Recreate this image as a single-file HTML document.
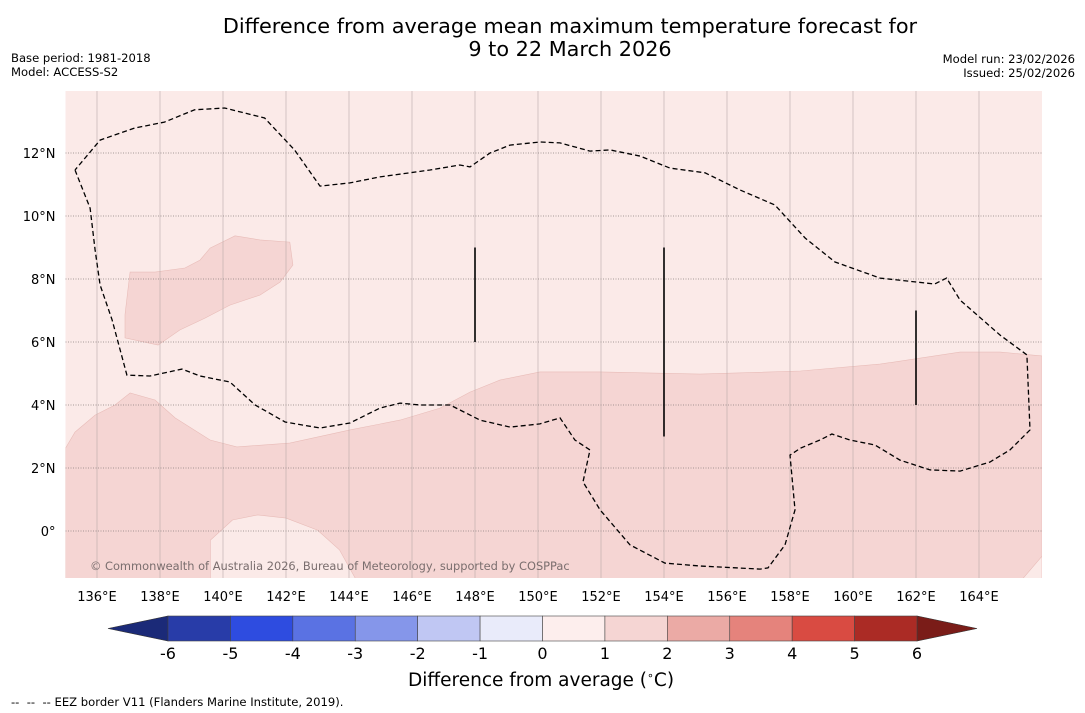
<!DOCTYPE html>
<html><head><meta charset="utf-8">
<style>
body{margin:0;background:#fff;font-family:"DejaVu Sans","Liberation Sans",sans-serif;}
#wrap{position:relative;width:1085px;height:713px;overflow:hidden;}
.t{position:absolute;white-space:nowrap;color:#000;}
</style></head><body>
<div id="wrap">
<div class="t" style="left:0;width:1140px;top:15px;text-align:center;font-size:20.8px;line-height:23px;">Difference from average mean maximum temperature forecast for<br>9 to 22 March 2026</div>
<div class="t" style="left:11px;top:51px;font-size:11.6px;line-height:14px;">Base period: 1981-2018<br>Model: ACCESS-S2</div>
<div class="t" style="right:10px;top:52px;font-size:11.6px;line-height:14px;text-align:right;">Model run: 23/02/2026<br>Issued: 25/02/2026</div>
<svg id="svg" width="1085" height="713" style="position:absolute;left:0;top:0"></svg>
<div class="t" style="left:408px;top:669px;font-size:18.5px;">Difference from average (<sup style="font-size:11px">∘</sup>C)</div>
<div class="t" style="left:11px;top:695px;font-size:11.6px;">-- &nbsp;-- &nbsp;-- EEZ border V11 (Flanders Marine Institute, 2019).</div>
</div>
<script>
const lonTicks=[136,138,140,142,144,146,148,150,152,154,156,158,160,162,164];
const latTicks=[0,2,4,6,8,10,12];
const mainRegion=[[135,2.63],[135.3,3.14],[135.94,3.68],[136.57,4.0],[137.05,4.38],[137.84,4.16],[138.48,3.59],[139.59,2.89],[140.44,2.67],[142.12,2.79],[144.03,3.21],[145.62,3.52],[146.89,3.9],[147.84,4.41],[148.79,4.79],[150.06,5.05],[151.97,5.05],[155.14,4.98],[158.33,5.08],[160.86,5.3],[163.4,5.68],[164.67,5.68],[166,5.56],[166,-1.5],[135,-1.5]];
const lightHole1=[[139.6,-1.5],[139.6,-0.29],[140.3,0.35],[141.1,0.51],[142.0,0.41],[143.0,0.03],[143.7,-0.6],[144.2,-1.5]];
const lightHole2=[[166,-0.8],[166,-1.5],[165.4,-1.5]];
const upperBlob=[[137.05,8.22],[137.84,8.22],[138.79,8.35],[139.27,8.6],[139.59,8.98],[140.38,9.37],[141.17,9.24],[142.12,9.17],[142.22,8.44],[141.81,7.9],[141.17,7.49],[140.22,7.17],[139.43,6.76],[138.63,6.38],[137.94,5.9],[136.89,6.13],[136.89,6.86],[136.98,7.65]];
const eez=[[135.3,11.46],[135.78,10.25],[135.94,8.92],[136.1,7.81],[136.48,6.7],[136.95,4.95],[137.68,4.92],[138.7,5.14],[139.27,4.92],[140.22,4.73],[141.02,4.0],[141.97,3.46],[143.08,3.27],[144.03,3.43],[144.98,3.9],[145.62,4.06],[146.25,4.0],[147.21,4.0],[148.16,3.52],[149.11,3.3],[150.06,3.4],[150.7,3.59],[151.17,2.89],[151.65,2.57],[151.43,1.56],[151.97,0.67],[152.92,-0.44],[154.03,-1.02],[155.14,-1.11],[157.05,-1.21],[157.3,-1.17],[157.84,-0.44],[158.16,0.67],[158.0,2.41],[158.33,2.63],[158.95,2.89],[159.33,3.08],[159.9,2.89],[160.7,2.73],[161.49,2.25],[162.44,1.94],[163.4,1.9],[164.35,2.19],[164.98,2.57],[165.62,3.21],[165.52,5.59],[164.67,6.22],[163.4,7.33],[162.97,8.03],[162.59,7.84],[160.86,8.03],[159.43,8.54],[158.48,9.3],[157.52,10.35],[156.41,10.83],[155.3,11.37],[154.19,11.52],[153.24,11.9],[152.29,12.1],[151.65,12.06],[150.7,12.32],[150.06,12.35],[149.11,12.25],[148.48,12.0],[147.84,11.56],[147.52,11.62],[146.57,11.46],[144.98,11.24],[144.03,11.05],[143.08,10.95],[142.27,12.1],[141.32,13.11],[140.05,13.43],[139.1,13.37],[138.14,12.98],[137.19,12.79],[136.1,12.41],[135.3,11.46]];
const vlines=[[148,6,9],[154,3,9],[162,4,7]];
const cbValues=[-6,-5,-4,-3,-2,-1,0,1,2,3,4,5,6];
const cbColors=["#283ca8","#2e4ce0","#5a72e3","#8596ea","#c0c7f3","#e9ebfa","#fdeeed","#f5d5d3","#ebaaa5","#e5837c","#d94b42","#ab2b25"];
const cbLow="#1b2a78", cbHigh="#7a1c18";

const L=65.5,R=1042,T=91,B=578;
const lonMin=135,lonMax=166;
const x=lon=>L+(lon-lonMin)/(lonMax-lonMin)*(R-L);
const y=lat=>531-lat*31.5;
const svg=document.getElementById('svg');
const NS="http://www.w3.org/2000/svg";
function mk(tag,attrs,parent){const e=document.createElementNS(NS,tag);for(const k in attrs)e.setAttribute(k,attrs[k]);(parent||svg).appendChild(e);return e;}
const pts=a=>a.map(p=>x(p[0]).toFixed(1)+","+y(p[1]).toFixed(1)).join(" ");
const FF='"DejaVu Sans","Liberation Sans",sans-serif';

let bg=mk('rect',{x:L,y:T,width:R-L,height:B-T,fill:"#fbeae8"});


const cl=mk('clipPath',{id:'mc'});mk('rect',{x:L,y:T,width:R-L,height:B-T},cl);
const g=mk('g',{'clip-path':'url(#mc)'});
let p1=mk('polygon',{points:pts(mainRegion),fill:"#f5d5d3",stroke:"#e8bcb8","stroke-width":0.6},g);


[lightHole1,lightHole2].forEach(h=>{let e=mk('polygon',{points:pts(h),fill:"#fbeae8",stroke:"#e8bcb8","stroke-width":0.6},g);

});
let p2=mk('polygon',{points:pts(upperBlob),fill:"#f5d5d3",stroke:"#e8bcb8","stroke-width":0.6},g);


lonTicks.forEach(l=>{let e=mk('line',{x1:x(l),x2:x(l),y1:T,y2:B,stroke:"#b9a9a9","stroke-width":0.6},g);


let t=mk('text',{x:x(l),y:B+23,"text-anchor":"middle","font-size":13,fill:"#000","font-family":FF});t.textContent=l+"°E";

});
latTicks.forEach(l=>{let e=mk('line',{x1:L,x2:R,y1:y(l),y2:y(l),stroke:"#8a7f7f","stroke-width":0.8,"stroke-dasharray":"1,1.5"},g);


let t=mk('text',{x:L-10,y:y(l)+5,"text-anchor":"end","font-size":13,fill:"#000","font-family":FF});t.textContent=l===0?"0°":l+"°N";

});
let ez=mk('polyline',{points:pts(eez),fill:"none",stroke:"#000","stroke-width":1.3,"stroke-dasharray":"5,3"},g);


vlines.forEach(v=>{let e=mk('line',{x1:x(v[0]),x2:x(v[0]),y1:y(v[1]),y2:y(v[2]),stroke:"#000","stroke-width":1.6},g);

});
let cr=mk('text',{x:90,y:570,"font-size":11.4,fill:"#7a6e6e","font-family":FF});cr.textContent="© Commonwealth of Australia 2026, Bureau of Meteorology, supported by COSPPac";



const cbL=168,cbR=917,cbT=616,cbB=641,w=(cbR-cbL)/cbColors.length;
let lt=mk('polygon',{points:`108,${(cbT+cbB)/2} ${cbL},${cbT} ${cbL},${cbB}`,fill:cbLow,stroke:"#333","stroke-width":0.6});


let rt=mk('polygon',{points:`977,${(cbT+cbB)/2} ${cbR},${cbT} ${cbR},${cbB}`,fill:cbHigh,stroke:"#333","stroke-width":0.6});


cbColors.forEach((c,i)=>{let r=mk('rect',{x:cbL+i*w,y:cbT,width:w,height:cbB-cbT,fill:c,stroke:"#444","stroke-width":0.6});

});
cbValues.forEach((v,i)=>{let t=mk('text',{x:cbL+i*w,y:cbB+18,"text-anchor":"middle","font-size":16,fill:"#000","font-family":FF});t.textContent=v;

});
</script>
</body></html>
